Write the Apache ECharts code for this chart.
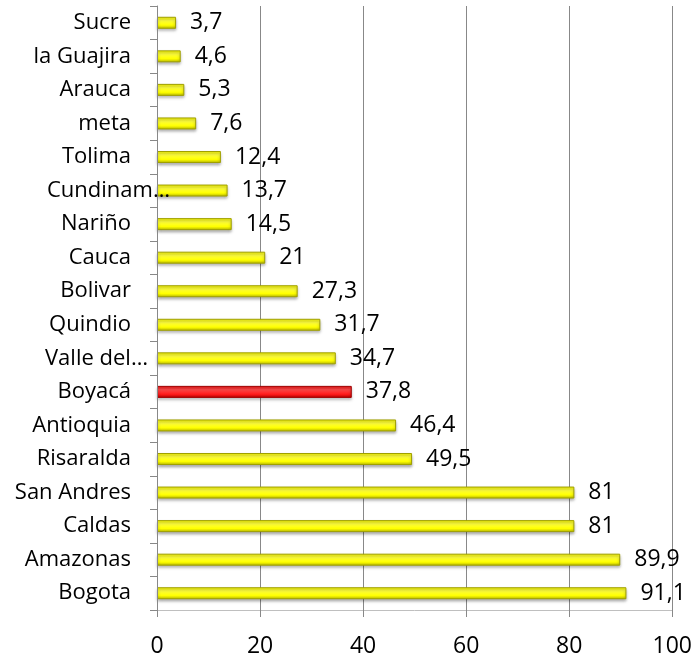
<!DOCTYPE html>
<html>
<head>
<meta charset="utf-8">
<script src="https://cdn.jsdelivr.net/npm/echarts@6/dist/echarts.min.js"></script>
<style>
  html, body { margin: 0; padding: 0; background: #fff; }
  #chart { width: 695px; height: 658px; }
</style>
</head>
<body>
<div id="chart"></div>
<script>
// Departments, listed top to bottom
const departments = [
  'Sucre', 'la Guajira', 'Arauca', 'meta', 'Tolima', 'Cundinam…', 'Nariño',
  'Cauca', 'Bolivar', 'Quindio', 'Valle del…', 'Boyacá', 'Antioquia',
  'Risaralda', 'San Andres', 'Caldas', 'Amazonas', 'Bogota'
];
const values = [
  3.7, 4.6, 5.3, 7.6, 12.4, 13.7, 14.5, 21, 27.3, 31.7, 34.7, 37.8, 46.4,
  49.5, 81, 81, 89.9, 91.1
];
const highlighted = ['Boyacá'];
const xTicks = [0, 20, 40, 60, 80, 100];

// Shortened names spill to the right of the label column (pixels)
const spillPx = { 'Cundinam…': 39, 'Valle del…': 17 };

const yellowFill = new echarts.graphic.LinearGradient(0, 0, 0, 1, [
  { offset: 0, color: '#f0f000' },
  { offset: 0.3, color: '#ffff40' },
  { offset: 0.7, color: '#ffff00' },
  { offset: 1, color: '#b4b400' }
]);
const redFill = new echarts.graphic.LinearGradient(0, 0, 0, 1, [
  { offset: 0, color: '#e81010' },
  { offset: 0.3, color: '#ff4a4a' },
  { offset: 0.7, color: '#ff1a1a' },
  { offset: 1, color: '#b00000' }
]);

const font = '"Open Sans", Lato, sans-serif';

const categoryItems = departments.map(name => spillPx[name]
  ? { value: name, textStyle: { padding: [0, -spillPx[name], 0, 0] } }
  : name);

const chart = echarts.init(document.getElementById('chart'), null, { renderer: 'canvas' });
chart.setOption({
  animation: false,
  grid: { left: 157, right: 19, top: 6, bottom: 44, containLabel: false },
  xAxis: {
    type: 'value',
    min: xTicks[0],
    max: xTicks[xTicks.length - 1],
    interval: 20,
    axisLine: { show: true, lineStyle: { color: '#bfbfbf', width: 1 } },
    axisTick: { show: true, length: 7, lineStyle: { color: '#888' } },
    splitLine: { show: true, lineStyle: { color: '#888', width: 1 } },
    axisLabel: { color: '#000', fontSize: 23, fontFamily: font, margin: 25 }
  },
  yAxis: {
    type: 'category',
    inverse: true,
    z: 3,
    data: categoryItems,
    axisLine: { show: true, lineStyle: { color: '#888', width: 1 } },
    axisTick: { show: true, length: 7, lineStyle: { color: '#888' } },
    axisLabel: { color: '#000', fontSize: 22, fontFamily: font, margin: 26 }
  },
  series: [{
    type: 'bar',
    barWidth: 12,
    data: values.map((v, i) => ({
      value: v,
      itemStyle: {
        color: highlighted.includes(departments[i]) ? redFill : yellowFill,
        borderColor: highlighted.includes(departments[i]) ? '#a00000' : '#a0a000',
        borderWidth: 1,
        shadowColor: 'rgba(0,0,0,0.35)',
        shadowBlur: 3,
        shadowOffsetY: 2
      }
    })),
    label: {
      show: true,
      position: 'right',
      distance: 14,
      color: '#000',
      fontSize: 23,
      fontFamily: font,
      formatter: p => String(p.value).replace('.', ',')
    }
  }]
});
</script>
</body>
</html>
